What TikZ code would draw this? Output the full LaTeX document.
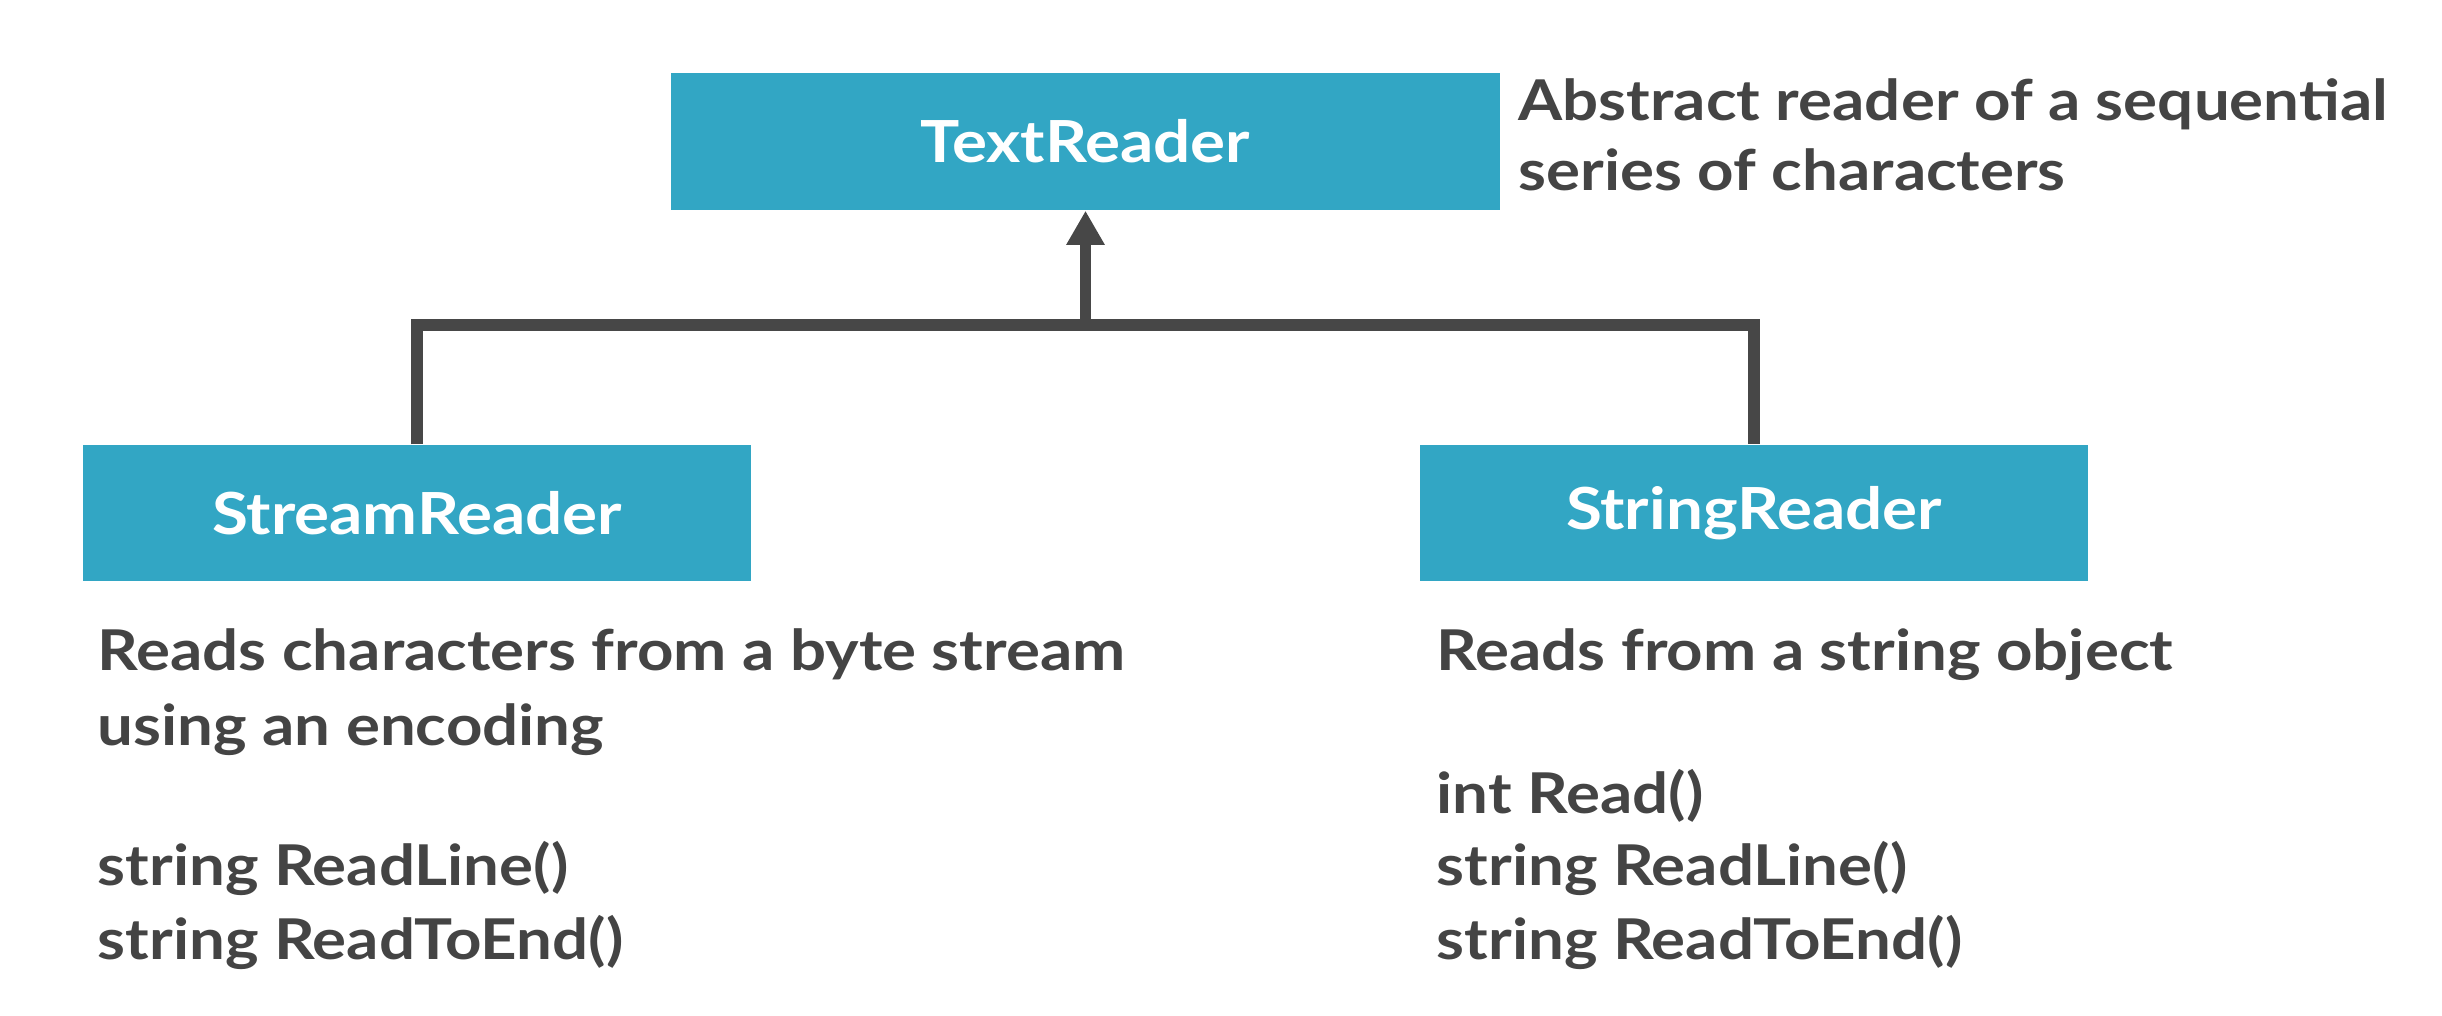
\documentclass[tikz,border=0pt]{standalone}
\usepackage{fontspec}
\setmainfont{Lato}[FakeStretch=1.13]
\usetikzlibrary{arrows.meta}
\definecolor{boxblue}{HTML}{32A6C4}
\definecolor{ink}{HTML}{444444}
\definecolor{linegray}{HTML}{474747}
\tikzset{
  clsbox/.style={fill=boxblue, draw=none, text=white, font=\bfseries\fontsize{16.5}{19}\selectfont, inner sep=0pt},
  desc/.style={anchor=base west, text=ink, font=\bfseries\fontsize{16}{19}\selectfont, inner sep=0pt},
  conn/.style={draw=linegray, line width=3.4pt},
}
\begin{document}
\begin{tikzpicture}[x=0.01cm, y=-0.01cm]
\useasboundingbox[fill=white] (0,0) rectangle (2442,1016);
\node[clsbox, minimum width=8.29cm, minimum height=1.37cm] (tr) at (1085.5,141.5) {TextReader};
\node[clsbox, minimum width=6.68cm, minimum height=1.36cm] (sr) at (417,513) {StreamReader};
\node[clsbox, minimum width=6.68cm, minimum height=1.36cm] (gr) at (1754,513) {StringReader};

\node[desc] (a1) at (1518,121) {Abstract reader of a sequential};
\node[desc] (a2) at (1518,191) {series of characters};

\node[desc] (s1) at (97,671) {Reads characters from a byte stream};
\node[desc] (s2) at (97,746) {using an encoding};
\node[desc] (s3) at (97,886) {string ReadLine()};
\node[desc] (s4) at (97,959) {string ReadToEnd()};

\node[desc] (g1) at (1436,671) {Reads from a string object};
\node[desc] (g2) at (1436,814) {int Read()};
\node[desc] (g3) at (1436,886) {string ReadLine()};
\node[desc] (g4) at (1436,959) {string ReadToEnd()};

\coordinate (j) at (1085.5,325);
\draw[conn] (sr.north) |- (j) -| (gr.north);
\draw[conn, -{Triangle[width=0.36cm, length=0.34cm]}] (j) -- (tr.south);
\end{tikzpicture}
\end{document}
